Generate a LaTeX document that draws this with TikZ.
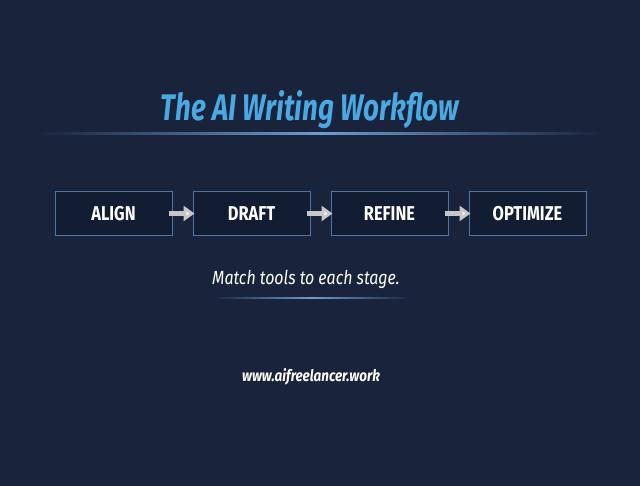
\documentclass[tikz,border=0pt]{standalone}
\usepackage{fontspec}
\setmainfont{Fira Sans}
\newfontfamily\titlefont[FakeStretch=0.75]{Fira Sans}
\newfontfamily\boxfont[FakeStretch=0.82]{Fira Sans}
\newfontfamily\notefont[FakeStretch=0.84]{Fira Sans}
\usetikzlibrary{chains,arrows.meta}

\definecolor{bgblue}{HTML}{19233B}
\definecolor{boxfill}{HTML}{121C32}
\definecolor{boxline}{HTML}{4E76A2}
\definecolor{titleblue}{HTML}{4AA8E2}
\definecolor{rulecol}{HTML}{6E9CCF}

\tikzset{
  stagebox/.style={draw=boxline,fill=boxfill,line width=1pt,minimum width=117pt,
    minimum height=44pt,text=white,font=\boxfont\bfseries\fontsize{20}{22}\selectfont},
  flowarrow/.style={line width=5pt,draw=white!78!black,
    -{Triangle[length=11pt,width=15pt,fill=white!95!black]},shorten <=-4pt,shorten >=-2pt}
}

\begin{document}
\begin{tikzpicture}[x=1pt,y=-1pt,
      start chain=1 going right,node distance=20pt
    ]
    \fill[bgblue] (0,0) rectangle (640,486);
    \useasboundingbox (0,0) rectangle (640,486);
    \node[text=titleblue,font=\titlefont\bfseries\itshape\fontsize{37}{40}\selectfont] (title) at (310,110) {The AI Writing Workflow};
    \shade[left color=bgblue,right color=bgblue,middle color=rulecol] (38,133) rectangle (603,135);
    \node [stagebox,on chain=1] (n1) at (113.5,213.5) {ALIGN};
    \node [stagebox,on chain=1] (n2) {DRAFT};
    \node [stagebox,on chain=1] (n3) {REFINE};
    \node [stagebox,on chain=1] (n4) {OPTIMIZE};
    \foreach \a/\b in {1/2,2/3,3/4} {
      \draw[flowarrow] (n\a.east) -- (n\b.west);
    }
    \node[text=white,font=\notefont\itshape\fontsize{19}{22}\selectfont] (sub) at (306,279) {Match tools to each stage.};
    \shade[left color=bgblue,right color=bgblue,middle color=rulecol] (212,297.5) rectangle (412,299);
    \node[text=white,font=\notefont\bfseries\itshape\fontsize{16}{18}\selectfont] (url) at (311,377) {www.aifreelancer.work};
  \end{tikzpicture}
\end{document}
